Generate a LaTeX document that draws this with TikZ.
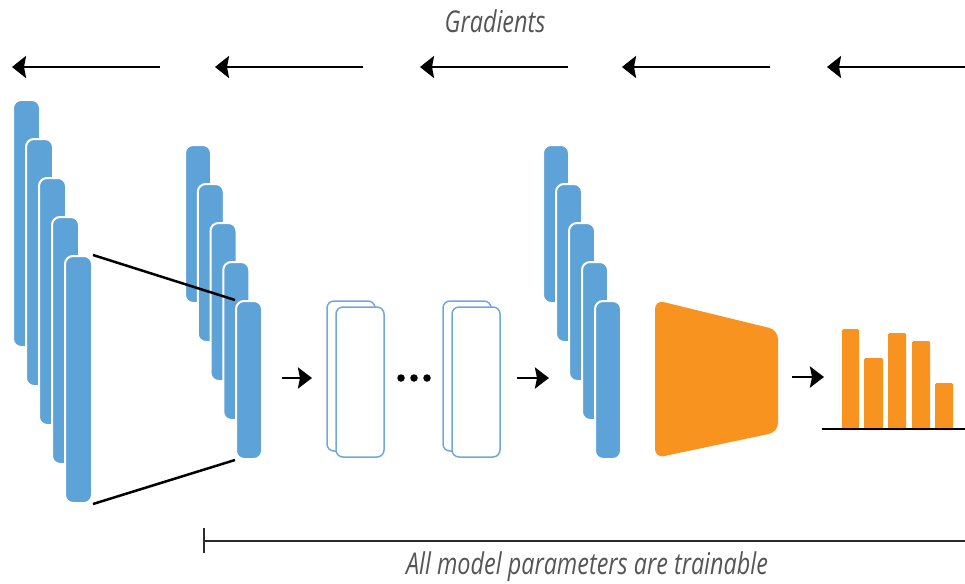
\documentclass[tikz,border=0pt]{standalone}
\usepackage{fontspec}
\newfontfamily\capfont[FakeStretch=0.78]{Open Sans}
\usetikzlibrary{arrows.meta}
\definecolor{barblue}{HTML}{5EA3D8}
\definecolor{outblue}{HTML}{6FA8DA}
\definecolor{orng}{HTML}{F7931E}
\definecolor{txtgrey}{HTML}{555555}
\definecolor{linegrey}{HTML}{2A2A2A}
\begin{document}
\begin{tikzpicture}[x=1pt,y=-1pt,
 bar/.style={rectangle,rounded corners=8pt,fill=barblue,draw=white,line width=2pt,inner sep=0pt,minimum width=27pt},
 tallbar/.style={bar,minimum height=247pt},
 shortbar/.style={bar,minimum width=26pt,minimum height=158pt},
 hollow/.style={rectangle,rounded corners=7pt,draw=outblue,fill=white,line width=1.5pt,inner sep=0pt,minimum width=48pt,minimum height=150pt},
 grad/.style={line width=2.7pt,-{Stealth[length=14pt,width=22pt,inset=2pt]}},
 flow/.style={line width=2.7pt,-{Stealth[length=14pt,width=21pt,inset=2pt]}},
 lbl/.style={text=txtgrey,font=\capfont\itshape\fontsize{30}{36}\selectfont,inner sep=0pt},
 dot/.style={circle,fill=black,inner sep=0pt,minimum size=7.5pt}]
\useasboundingbox (0,0) rectangle (965,583);

% title and gradient arrows
\node[lbl] (gtxt) at (495,21) {Gradients};
\foreach \t/\s [count=\i] in {12/160,215/363,420/568,622/770,827/965}{
  \coordinate (g\i s) at (\s,67);
  \coordinate (g\i e) at (\t,67);
  \draw[grad] (g\i s) -- (g\i e);
}

% left stack
\foreach \k in {0,...,4}
  \node[tallbar] (L\k) at ({26.5+13*\k},{223.5+39*\k}) {};
% second stack
\foreach \k in {0,...,4}
  \node[shortbar] (M\k) at ({198+12.75*\k},{224+39*\k}) {};
\draw[line width=2.5pt] (L4.north east) -- (M4.north west);
\draw[line width=2.5pt] (L4.south east) -- (M4.south west);

% hollow blocks
\node[hollow] (H1b) at (351,376) {};
\node[hollow] (H1) at (360,382) {};
\node[hollow] (H2b) at (467,376) {};
\node[hollow] (H2) at (476,382) {};
\node[dot] (d1) at (401,378) {};
\node[dot] (d2) at (414,378) {};
\node[dot] (d3) at (427,378) {};

% third stack
\foreach \k in {0,...,4}
  \node[shortbar] (R\k) at ({556+13*\k},{224+39*\k}) {};

% flow arrows
\coordinate (f1s) at (282,378); \coordinate (f1e) at (312,378);
\coordinate (f2s) at (517,378); \coordinate (f2e) at (549,378);
\coordinate (f3s) at (792,377); \coordinate (f3e) at (824,377);
\draw[flow] (f1s) -- (f1e);
\draw[flow] (f2s) -- (f2e);
\draw[flow] (f3s) -- (f3e);

% head
\fill[orng,rounded corners=9pt] (655,300) -- (778,330) -- (778,432) -- (655,458) -- cycle;

% histogram
\foreach \a/\b/\t in {842/859/329,864/883/358,888/906/333,912/930/341,935/953/383}
  \fill[orng,rounded corners=1.5pt] (\a,430) rectangle (\b,\t);
\draw[line width=2pt] (822,429) -- (965,429);

% trainable bracket
\draw[linegrey,line width=2.5pt] (204,528) -- (204,553);
\draw[linegrey,line width=2.5pt] (204,541) -- (965,541);
\node[lbl,anchor=base] (ptxt) at (587,574) {All model parameters are trainable};
\end{tikzpicture}
\end{document}
